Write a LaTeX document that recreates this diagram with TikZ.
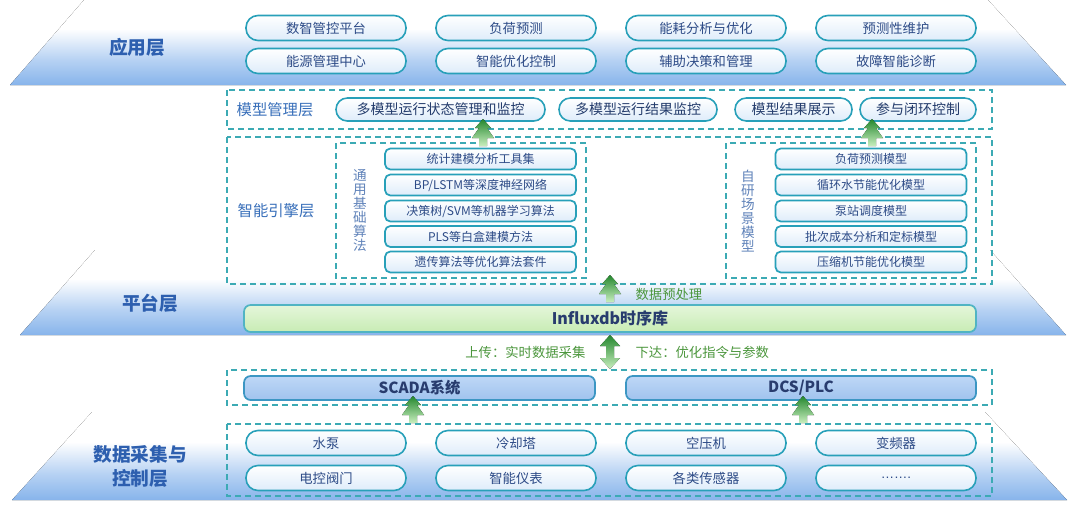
\documentclass[tikz,border=0pt]{standalone}
\usepackage{fontspec}
\setmainfont{Noto Sans CJK SC}
\newfontfamily\latf{Liberation Sans}
\usetikzlibrary{calc}
\definecolor{bandc}{RGB}{135,180,235}
\definecolor{pillc}{RGB}{40,160,185}
\definecolor{pillf}{RGB}{222,236,250}
\definecolor{dashc}{RGB}{60,170,180}
\definecolor{layc}{RGB}{45,95,175}
\definecolor{subc}{RGB}{55,110,185}
\definecolor{txtc}{RGB}{45,75,135}
\definecolor{vertc}{RGB}{95,130,185}
\definecolor{gD}{RGB}{35,135,45}
\definecolor{gL}{RGB}{200,238,190}
\definecolor{gtx}{RGB}{75,150,60}
\definecolor{inA}{RGB}{228,246,218}
\definecolor{inB}{RGB}{200,236,180}
\definecolor{inD}{RGB}{80,180,195}
\definecolor{scA}{RGB}{190,215,246}
\definecolor{scB}{RGB}{160,195,238}
\definecolor{scD}{RGB}{60,150,195}
\definecolor{dbt}{RGB}{40,60,110}
\pgfdeclareverticalshading{bandshade}{100bp}{color(0bp)=(bandc); color(25bp)=(bandc); color(40bp)=(bandc!60!white); color(58bp)=(white); color(100bp)=(white)}
\begin{document}
\begin{tikzpicture}[x=0.75pt,y=-0.75pt,
  band/.style={shading=bandshade},
  apppill/.style={draw=pillc, line width=1.2pt, rounded corners=9pt, minimum width=120pt, minimum height=18.75pt, inner sep=0pt, top color=white, bottom color=pillf, text=txtc, font=\fontsize{10}{12}\selectfont},
  mmpill/.style={draw=pillc, line width=1.2pt, rounded corners=8.5pt, minimum height=17.25pt, inner sep=0pt, top color=white, bottom color=pillf, text=txtc!80!black, font=\fontsize{10.5}{12}\selectfont},
  engpill/.style={draw=pillc, line width=1.3pt, rounded corners=4pt, minimum width=143.25pt, minimum height=15.75pt, inner sep=0pt, top color=white, bottom color=pillf, text=txtc, font=\fontsize{9}{11}\selectfont},
  dbox/.style={draw=dashc, line width=1.1pt, dash pattern=on 4.5pt off 3pt},
  lay/.style={text=layc, font=\fontsize{14}{18}\selectfont\bfseries, align=center},
  sublay/.style={text=subc, font=\fontsize{11.5}{13}\selectfont},
  vert/.style={text=vertc, align=center, font=\fontsize{10.2}{10.5}\selectfont, inner sep=0pt},
  gtxt/.style={text=gtx, font=\fontsize{10}{12}\selectfont, inner sep=1pt},
  bar/.style={line width=1.3pt, rounded corners=5pt, inner sep=0pt},
  treearr/.pic={\fill[top color=gD, bottom color=gL] (0,0) -- (-8,9) -- (-4,9) -- (-11,19) -- (-4,19) -- (-4,27) -- (4,27) -- (4,19) -- (11,19) -- (4,9) -- (8,9) -- cycle;},
  duoarr/.pic={\fill[top color=gD, bottom color=gL] (0,0) -- (-10,11) -- (-4,11) -- (-4,23) -- (-10,23) -- (0,34) -- (10,23) -- (4,23) -- (4,11) -- (10,11) -- cycle;}
]
\useasboundingbox (0,0) rectangle (1080,504);
% bands
\fill[band] (10,85) -- (84,0) -- (988,0) -- (1066,85) -- cycle;
\fill[band] (20,335) -- (95,250) -- (990,250) -- (1066,335) -- cycle;
\fill[band] (12,500) -- (92,412) -- (985,412) -- (1067,500) -- cycle;
% layer labels
\node[lay] (L1) at (137,47) {应用层};
\node[lay] (L2) at (150,303) {平台层};
\node[lay] (L3) at (140,466) {数据采集与\\控制层};
% application pills
\node[apppill] (a1) at (326,28) {数智管控平台};
\node[apppill] (a2) at (516,28) {负荷预测};
\node[apppill] (a3) at (706,28) {能耗分析与优化};
\node[apppill] (a4) at (896,28) {预测性维护};
\node[apppill] (a5) at (326,61) {能源管理中心};
\node[apppill] (a6) at (516,61) {智能优化控制};
\node[apppill] (a7) at (706,61) {辅助决策和管理};
\node[apppill] (a8) at (896,61) {故障智能诊断};
% model management layer
\draw[dbox] (227,90) rectangle (992,129);
\node[sublay] (mmL) at (275,109.5) {模型管理层};
\node[mmpill, minimum width=156.75pt] (m1) at (440.5,109.5) {多模型运行状态管理和监控};
\node[mmpill, minimum width=118.5pt] (m2) at (638,109.5) {多模型运行结果监控};
\node[mmpill, minimum width=87.75pt] (m3) at (793.5,109.5) {模型结果展示};
\node[mmpill, minimum width=87pt] (m4) at (918,109.5) {参与闭环控制};
% engine layer
\draw[dbox] (227,137) rectangle (992,284);
\node[sublay] (enL) at (276,211) {智能引擎层};
\draw[dbox] (336,143) rectangle (586,278);
\draw[dbox] (726,143) rectangle (976,278);
\node[vert] (v1) at (360,211) {通\\用\\基\\础\\算\\法};
\node[vert] (v2) at (748,211) {自\\研\\场\\景\\模\\型};
\node[engpill] (e1) at (480.5,159) {统计建模分析工具集};
\node[engpill] (e2) at (480.5,185) {BP/LSTM等深度神经网络};
\node[engpill] (e3) at (480.5,211) {决策树/SVM等机器学习算法};
\node[engpill] (e4) at (480.5,236.5) {PLS等白盒建模方法};
\node[engpill] (e5) at (480.5,262) {遗传算法等优化算法套件};
\node[engpill] (s1) at (871,159) {负荷预测模型};
\node[engpill] (s2) at (871,185) {循环水节能优化模型};
\node[engpill] (s3) at (871,211) {泵站调度模型};
\node[engpill] (s4) at (871,236.5) {批次成本分析和定标模型};
\node[engpill] (s5) at (871,262) {压缩机节能优化模型};
\pic at (483,119) {treearr};
\pic at (872,119) {treearr};
% platform
\pic at (610,275) {treearr};
\node[gtxt, anchor=west] (pre) at (634,294) {数据预处理};
\node[bar, draw=inD, top color=inA, bottom color=inB, minimum width=549pt, minimum height=20.25pt, text=dbt, font=\fontsize{12}{14}\selectfont\bfseries] (db) at (610,318.5) {Influxdb时序库};
\pic at (610,335) {duoarr};
\node[gtxt, anchor=east] (up) at (587,352) {上传：实时数据采集};
\node[gtxt, anchor=west] (down) at (634,352) {下达：优化指令与参数};
% control systems
\draw[dbox] (227,370) rectangle (992,405);
\node[bar, draw=scD, top color=scA, bottom color=scB, minimum width=263.25pt, minimum height=18pt, text=dbt, font=\fontsize{11.5}{13}\selectfont\bfseries] (sc) at (419.5,388) {SCADA系统};
\node[bar, draw=scD, top color=scA, bottom color=scB, minimum width=262.5pt, minimum height=18pt, text=dbt, font=\fontsize{11.5}{13}\selectfont\bfseries] (dcs) at (801,388) {DCS/PLC};
\pic at (413,396) {treearr};
\pic at (803,396) {treearr};
% devices
\draw[dbox] (227,424) rectangle (992,496);
\node[apppill] (d1) at (326,443) {水泵};
\node[apppill] (d2) at (516,443) {冷却塔};
\node[apppill] (d3) at (706,443) {空压机};
\node[apppill] (d4) at (896,443) {变频器};
\node[apppill] (d5) at (326,478) {电控阀门};
\node[apppill] (d6) at (516,478) {智能仪表};
\node[apppill] (d7) at (706,478) {各类传感器};
\node[apppill] (d8) at (896,478) {\latf …….};
\end{tikzpicture}
\end{document}
